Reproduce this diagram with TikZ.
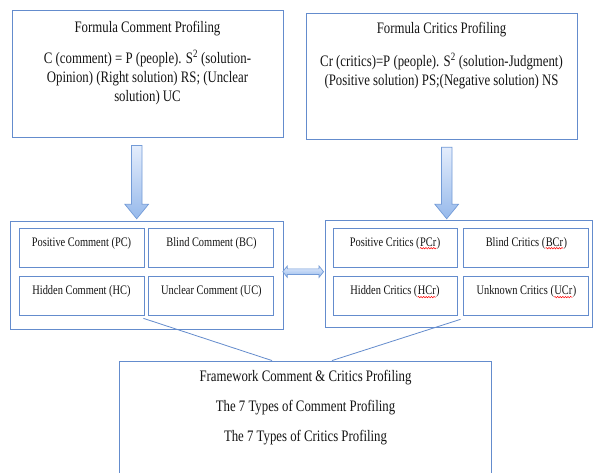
\documentclass[tikz,border=0pt]{standalone}
\usepackage{fontspec}
\setmainfont{Liberation Serif}[FakeStretch=0.8]
\usepackage{tikz}
\usetikzlibrary{positioning, calc, decorations.pathmorphing}
\definecolor{frameblue}{RGB}{100,140,205}
\definecolor{arrowline}{RGB}{115,155,215}
\definecolor{arrowtop}{RGB}{228,237,252}
\definecolor{arrowbot}{RGB}{150,185,235}
\definecolor{inkgray}{RGB}{20,20,20}
\tikzset{
  panel/.style={rectangle, draw=frameblue, line width=0.9pt, inner sep=0pt},
  cell/.style={rectangle, draw=frameblue, line width=0.9pt, inner sep=0pt,
    minimum width=125pt, text height=18pt, text depth=21pt,
    font=\fontsize{13}{15}\selectfont, text=inkgray},
  ttl/.style={font=\fontsize{16}{19}\selectfont, text=inkgray, align=center, inner sep=0pt},
  link/.style={draw=frameblue, line width=0.8pt},
  blk/.style={draw=arrowline, line width=0.7pt, top color=arrowtop, bottom color=arrowbot},
  spell/.style={draw=red, line width=0.5pt, decorate,
    decoration={snake, amplitude=0.7pt, segment length=2.6pt}}
}
\newcommand{\wavy}[1]{\tikz[baseline=(w.base), x=1pt, y=1pt]{%
  \node[inner sep=0pt, text height=, text depth=, minimum width=0pt, minimum height=0pt, draw=none] (w) {#1};
  \path[spell] ([yshift=-2.2pt]w.base west) -- ([yshift=-2.2pt]w.base east);}}
\newcommand{\blkdown}[2]{%
  \path[blk] let \p1=(#1), \p2=(#2) in
    (\x1-5.3pt,\y1) -- (\x1+5.3pt,\y1) -- (\x1+5.3pt,\y2+14.5pt) -- (\x1+11.8pt,\y2+14.5pt)
    -- (\x2,\y2) -- (\x1-11.8pt,\y2+14.5pt) -- (\x1-5.3pt,\y2+14.5pt) -- cycle;}
\newcommand{\blkboth}[2]{%
  \path[blk] let \p1=(#1), \p2=(#2) in
    (\x1,\y1) -- (\x1+4.5pt,\y1+5.7pt) -- (\x1+4.5pt,\y1+2.85pt) -- (\x2-4.5pt,\y1+2.85pt)
    -- (\x2-4.5pt,\y1+5.7pt) -- (\x2,\y1) -- (\x2-4.5pt,\y1-5.7pt) -- (\x2-4.5pt,\y1-2.85pt)
    -- (\x1+4.5pt,\y1-2.85pt) -- (\x1+4.5pt,\y1-5.7pt) -- cycle;}

\begin{document}
\begin{tikzpicture}[x=1pt, y=-1pt]
  \useasboundingbox (0,0) rectangle (593,472);
  \fill[white] (0,0) rectangle (593,472);

  \node[panel, minimum width=271pt, minimum height=126.5pt] (fcm) at (147.5,73.75) {};
  \node[ttl, below=10.8pt of fcm.north] (fcmt) {Formula Comment Profiling};
  \node[ttl, below=42pt of fcm.north] (fcmf) {C (comment) = P (people). S\smash{\textsuperscript{2}} (solution-\\Opinion) (Right solution) RS; (Unclear\\solution) UC};

  \node[panel, minimum width=271pt, minimum height=126pt] (fcr) at (441.5,76) {};
  \node[ttl, below=9.5pt of fcr.north] (fcrt) {Formula Critics Profiling};
  \node[ttl, below=42.5pt of fcr.north] (fcrf) {Cr (critics)=P (people). S\smash{\textsuperscript{2}} (solution-Judgment)\\(Positive solution) PS;(Negative solution) NS};

  \node[panel, minimum width=273.3pt, minimum height=107.3pt] (grpc) at (146.7,275.3) {};
  \node[cell] (pc) at (81.5,247.5) {Positive Comment (PC)};
  \node[cell, right=4pt of pc] (bc) {Blind Comment (BC)};
  \node[cell, below=9pt of pc] (hc) {Hidden Comment (HC)};
  \node[cell, below=9pt of bc] (uc) {Unclear Comment (UC)};

  \node[panel, minimum width=267pt, minimum height=106.3pt] (grpr) at (458.5,273.8) {};
  \node[cell, minimum width=124pt] (pcr) at (395,247.5) {Positive Critics (\wavy{PCr})};
  \node[cell, right=6pt of pcr] (bcr) {Blind Critics (\wavy{BCr})};
  \node[cell, minimum width=124pt, below=9pt of pcr] (hcr) {Hidden Critics (\wavy{HCr})};
  \node[cell, below=9pt of bcr] (ucr) {Unknown Critics (\wavy{UCr})};

  \node[panel, minimum width=372.4pt, minimum height=115pt] (fw) at (305.5,418.5) {};
  \node[ttl, font=\fontsize{16}{30}\selectfont, below=9pt of fw.north] (fwt) {Framework Comment \& Critics Profiling\\The 7 Types of Comment Profiling\\The 7 Types of Critics Profiling};

  \coordinate (al) at ($(fcm.south)+(-10.8,8)$);
  \coordinate (ale) at ($(grpc.north)+(-10,-2.4)$);
  \coordinate (ar) at ($(fcr.south)+(5.2,7.7)$);
  \coordinate (are) at ($(grpr.north)+(-11.8,-1.4)$);
  \coordinate (dl) at ($(grpc.east)+(-1,-3.6)$);
  \coordinate (dr) at ($(grpr.west)+(-1,-2.1)$);
  \blkdown{al}{ale}
  \blkdown{ar}{are}
  \blkboth{dl}{dr}

  \draw[link] ([shift={(-1pt,-2pt)}]hc.south east) -- ([xshift=-33.5pt]fw.north);
  \draw[link] ($(hcr.south east)!.5!(ucr.south west)+(0,3)$) -- ([xshift=26.5pt]fw.north);
\end{tikzpicture}
\end{document}
